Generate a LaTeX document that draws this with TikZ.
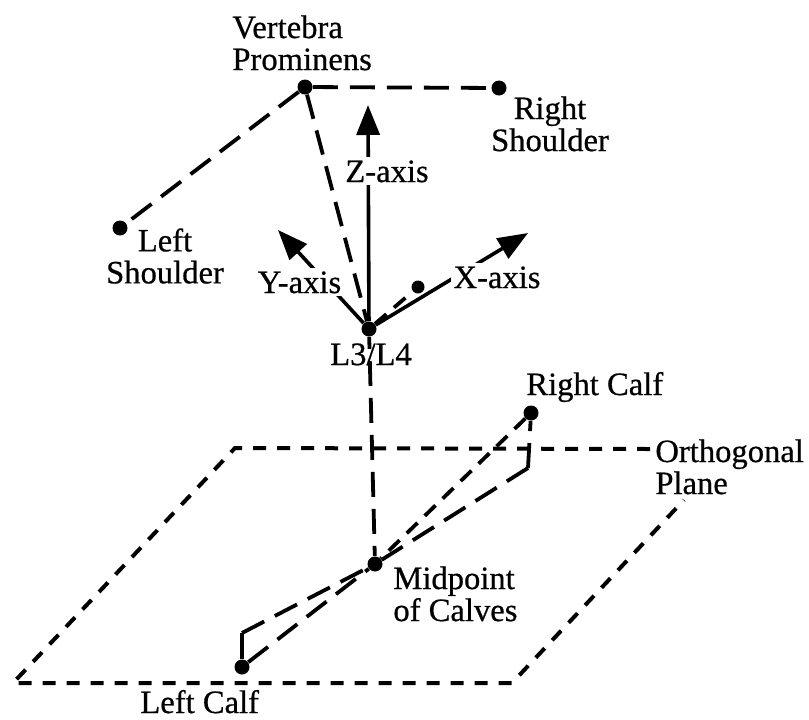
\documentclass[tikz,border=0pt]{standalone}
\usepackage{fontspec}
\setmainfont{Liberation Serif}[FakeBold=0.6]
\usetikzlibrary{arrows.meta}
\begin{document}
\begin{tikzpicture}[x=0.5pt,y=-0.5pt,
  dot/.style={circle,fill=black,inner sep=0pt,minimum size=7.5pt},
  smalldot/.style={circle,fill=black,inner sep=0pt,minimum size=6.5pt},
  longdash/.style={line width=1.9pt,dash pattern=on 12.5pt off 6pt},
  middash/.style={line width=1.9pt,dash pattern=on 7.5pt off 5pt},
  planedash/.style={line width=2pt,dash pattern=on 6.5pt off 5.5pt},
  axisarrow/.style={line width=1.8pt,-{Triangle[length=15pt,width=11.5pt]}},
  lbl/.style={font=\fontsize{16.3}{16}\selectfont,inner sep=0pt},
  axlbl/.style={lbl,fill=white,inner sep=1.5pt,anchor=base},
]
\useasboundingbox (0,0) rectangle (809,719);

% body landmarks
\node[dot] (vp) at (305,87) {};
\node[dot] (rs) at (499,88) {};
\node[dot] (ls) at (120,228) {};
\node[dot] (l34) at (369,329) {};
\node[smalldot] (xd) at (418,287) {};
\node[dot] (mid) at (375,564) {};
\node[dot] (rc) at (531,413) {};
\node[dot] (lc) at (242,667) {};

% projections of the calves onto the plane
\coordinate (rcp) at (528,468);
\coordinate (lcp) at (242,633);

% axis tips
\coordinate (ztip) at (368,105);
\coordinate (ytip) at (278,230);
\coordinate (xtip) at (528,233);

% orthogonal plane (its far corner sits under the label)
\coordinate (ptl) at (235,448);
\coordinate (pbl) at (13,683);
\coordinate (pbr) at (512,683);
\coordinate (ptop) at (650,449);
\coordinate (pright) at (684,500);
\draw[planedash] (ptop) -- (ptl) -- (pbl) -- (pbr) -- (pright);

% trunk segments
\draw[longdash] (vp) -- (rs);
\draw[longdash] (vp) -- (ls);
\draw[longdash] (vp) -- (l34);
\draw[longdash,dash phase=6.5pt] (l34) -- (mid);
\draw[middash] (l34) -- (xd);

% calves
\draw[middash] (rc) -- (mid);
\draw[longdash] (rcp) -- (mid);
\draw[longdash] (rcp) -- (rc);
\draw[longdash] (lcp) -- (mid);
\draw[longdash] (lc) -- (mid);
\draw[line width=1.8pt] (lc) -- (lcp);

% coordinate axes
\draw[axisarrow] (l34) -- (ztip);
\draw[axisarrow] (l34) -- (ytip);
\draw[axisarrow] (l34) -- (xtip);

% labels
\node[axlbl] (zl) at (387,182) {Z-axis};
\node[axlbl] (yl) at (299.5,293) {Y-axis};
\node[axlbl] (xl) at (497,288) {X-axis};
\node[lbl,align=left,anchor=north west] (vpl) at (232,15) {Vertebra\\Prominens};
\node[lbl,align=center,anchor=north] (rsl) at (550,96) {Right\\Shoulder};
\node[lbl,align=center,anchor=north] (lsl) at (165,228) {Left\\Shoulder};
\node[lbl,anchor=base] (l34l) at (371,365) {L3/L4};
\node[lbl,anchor=base west] (rcl) at (526,395) {Right Calf};
\node[lbl,align=left,anchor=north west] (opl) at (655,439) {Orthogonal\\Plane};
\node[lbl,align=left,anchor=north west] (mcl) at (393,566) {Midpoint\\of Calves};
\node[lbl,anchor=base west] (lcl) at (140,713) {Left Calf};
\end{tikzpicture}
\end{document}
